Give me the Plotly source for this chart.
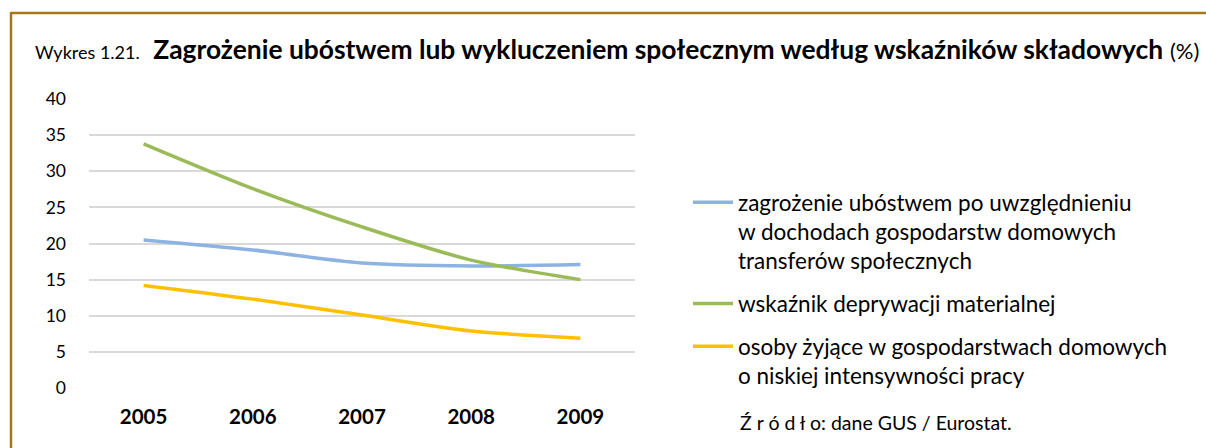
import plotly.graph_objects as go

years = ["2005", "2006", "2007", "2008", "2009"]
poverty_after_transfers = [20.5, 19.1, 17.3, 16.9, 17.1]
material_deprivation = [33.8, 27.6, 22.3, 17.7, 15.0]
low_work_intensity = [14.2, 12.3, 10.1, 7.9, 6.9]

names = [
    "zagrożenie ubóstwem po uwzględnieniu<br>w dochodach gospodarstw domowych<br>transferów społecznych",
    "wskaźnik deprywacji materialnej",
    "osoby żyjące w gospodarstwach domowych<br>o niskiej intensywności pracy",
]
colors = ["#8DB3E2", "#9BBB59", "#FFC000"]
series = [poverty_after_transfers, material_deprivation, low_work_intensity]

FONT = "Lato"

fig = go.Figure()
for i, (nm, c, s) in enumerate(zip(names, colors, series)):
    fig.add_trace(go.Scatter(
        x=years, y=s, name=nm, mode="lines",
        line=dict(color=c, width=3.5, shape="spline", smoothing=0.8),
        legendgroup=f"g{i}",
    ))

W, H = 1206, 448
L, R, T, B = 89, 635, 99, 388
pw, ph = R - L, B - T

def px_x(x):
    return (x - L) / pw

def px_y(y):
    return (B - y) / ph

border = dict(color="#A8771B", width=2.5)

fig.update_layout(
    width=W, height=H,
    margin=dict(l=L, r=W - R, t=T, b=H - B),
    paper_bgcolor="white", plot_bgcolor="white",
    font=dict(family=FONT, size=17, color="#000000"),
    showlegend=True,
    legend=dict(
        x=px_x(688), y=px_y(181), xanchor="left", yanchor="top",
        font=dict(family=FONT, size=22.5, color="#000000"),
        tracegroupgap=10.5, valign="top", itemwidth=40,
        bgcolor="rgba(0,0,0,0)",
    ),
    xaxis=dict(
        type="category", range=[-0.5, 4.5],
        showgrid=False, showline=False, ticks="", ticklabelstandoff=14,
        tickfont=dict(family=FONT, size=20.5, color="#000000", weight="bold"),
    ),
    yaxis=dict(
        range=[0, 40], dtick=5, showgrid=True, gridcolor="#D9D9D9", gridwidth=1.5,
        zeroline=False, showline=False, ticks="", ticklabelstandoff=22,
        tickfont=dict(family=FONT, size=17.5, color="#000000"),
    ),
    shapes=[
        dict(type="line", xref="paper", yref="paper",
             x0=px_x(11), x1=px_x(1206), y0=px_y(13), y1=px_y(13),
             line=border, layer="below"),
        dict(type="line", xref="paper", yref="paper",
             x0=px_x(11), x1=px_x(11), y0=px_y(12), y1=px_y(448),
             line=border, layer="below"),
    ],
    annotations=[
        dict(
            xref="paper", yref="paper", x=px_x(33), y=px_y(49),
            xanchor="left", yanchor="middle", showarrow=False,
            text="<span style='font-size:18px'>Wykres 1.21.</span>  "
                 "<b>Zagrożenie ubóstwem lub wykluczeniem społecznym według wskaźników składowych</b> "
                 "<span style='font-size:22px'>(%)</span>",
            font=dict(family=FONT, size=26.4, color="#000000"),
        ),
        dict(
            xref="paper", yref="paper", x=px_x(738), y=px_y(422),
            xanchor="left", yanchor="middle", showarrow=False,
            text="Ź r ó d ł o: dane GUS / Eurostat.",
            font=dict(family=FONT, size=19.5, color="#000000"),
        ),
    ],
)

fig.write_html(
    "out.html",
    config={"displayModeBar": False},
    post_script="document.body.style.margin='0';document.body.style.overflow='hidden';",
)
